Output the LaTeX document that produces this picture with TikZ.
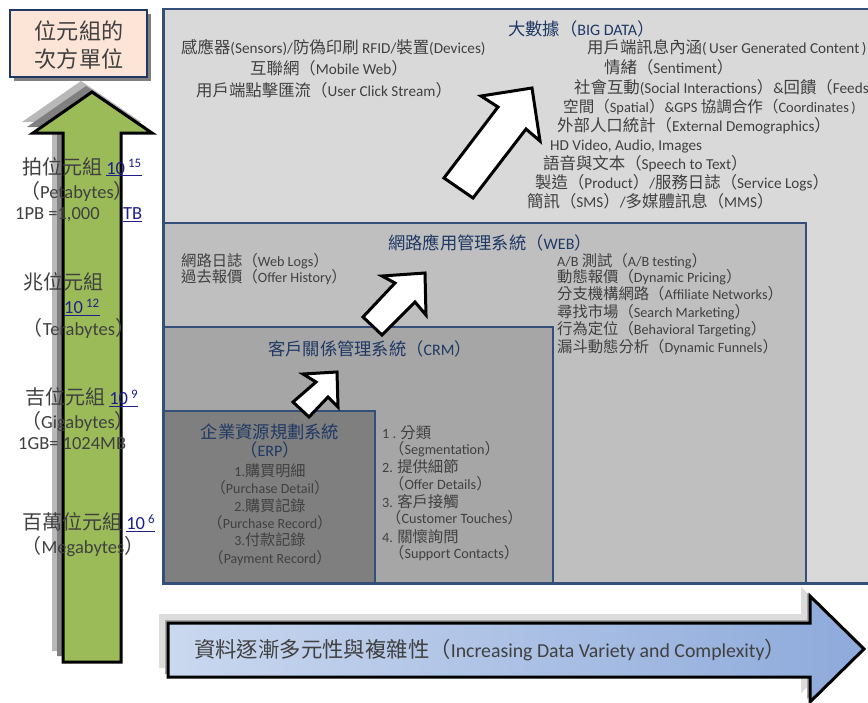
\documentclass[tikz,border=0pt]{standalone}
\usepackage{fontspec}
\setmainfont{Carlito}
\newfontfamily\latf{Carlito}
\newfontfamily\cjkf{Noto Sans CJK TC}[Scale=1.08]
\XeTeXinterchartokenstate=1
\newXeTeXintercharclass\CJKcls
\newcount\cjkcnt
\def\cjkrange#1#2{\cjkcnt=#1\relax
 \loop\XeTeXcharclass\cjkcnt=\CJKcls\relax
 \ifnum\cjkcnt<#2\relax\advance\cjkcnt by 1\relax\repeat}
\cjkrange{"3000}{"303F}
\cjkrange{"4E00}{"9FFF}
\cjkrange{"FF00}{"FF60}
\XeTeXinterchartoks 0 \CJKcls = {\cjkf}
\XeTeXinterchartoks 4095 \CJKcls = {\cjkf}
\XeTeXinterchartoks \CJKcls 0 = {\latf}
\XeTeXinterchartoks \CJKcls 4095 = {\latf}
\definecolor{bdfill}{HTML}{D9D9D9}
\definecolor{webfill}{HTML}{BFBFBF}
\definecolor{crmfill}{HTML}{A6A6A6}
\definecolor{erpfill}{HTML}{7F7F7F}
\definecolor{boxline}{HTML}{34507A}
\definecolor{ttl}{HTML}{1F3864}
\definecolor{tx}{HTML}{404040}
\definecolor{nav}{HTML}{1F1F8C}
\definecolor{peach}{HTML}{FCE4D6}
\definecolor{grn}{HTML}{9BBB59}
\definecolor{arL}{HTML}{CAD8EF}
\definecolor{arR}{HTML}{8EAADB}
\definecolor{shA}{HTML}{B8B8B8}
\definecolor{shB}{HTML}{808080}
\begin{document}
\begin{tikzpicture}[x=1pt,y=-1pt,
  box/.style={draw=boxline, line width=2.6pt},
  blk/.style={draw=black, line width=3pt, line join=miter, fill=white},
  t14/.style={inner sep=0, text=tx, font=\fontsize{15.2}{17}\selectfont, anchor=base west},
  t13/.style={inner sep=0, text=tx, font=\fontsize{14.2}{16}\selectfont, anchor=base west},
  e13/.style={inner sep=0, text=tx, font=\fontsize{14}{16}\selectfont, anchor=base},
  ttlt/.style={inner sep=0, text=ttl, font=\fontsize{16}{18}\selectfont, anchor=base west},
  lab/.style={inner sep=0, text=tx, font=\fontsize{18.5}{20}\selectfont, anchor=base west},
  labc/.style={lab, anchor=base},
  bigt/.style={inner sep=0, text=tx, font=\fontsize{20.5}{22}\selectfont, anchor=base},
  arrt/.style={inner sep=0, text=tx, font=\fontsize{19.8}{22}\selectfont, anchor=base west}]
\useasboundingbox (0,0) rectangle (868,702);
\clip (0,0) rectangle (868,702);
\fill[white] (0,0) rectangle (868,702);

% nested boxes
\draw[box, fill=bdfill] (163.5,9) rectangle (890,583.5);
\draw[box, fill=webfill] (163.5,223) rectangle (806,583.5);
\draw[box, fill=crmfill] (163.5,327) rectangle (553,583.5);
\draw[box, fill=erpfill] (163.5,411) rectangle (375,583.5);

% big data texts
\node[ttlt] (bdt) at (508,35) {大數據（BIG DATA）};
\node[t14] (b1) at (181,53.5) {感應器(Sensors)/防偽印刷 RFID/裝置(Devices)};
\node[t14] (b2) at (250,74.5) {互聯網（Mobile Web）};
\node[t14] (b3) at (196,96.5) {用戶端點擊匯流（User Click Stream）};
\node[t14] (r1) at (587,53.5) {用戶端訊息內涵(\,User Generated Content\,)};
\node[t14] (r2) at (604,73.5) {情緒（Sentiment）};
\node[t14] (r3) at (574,93.5) {社會互動(Social Interactions）\&回饋（Feeds};
\node[t14, font=\fontsize{14.4}{16}\selectfont] (r4) at (563,112.5) {空間（Spatial）\&GPS 協調合作（Coordinates\,)};
\node[t14] (r5) at (557,131.5) {外部人口統計（External Demographics）};
\node[t14] (r6) at (550,150.5) {HD Video, Audio, Images};
\node[t14] (r7) at (543,169.5) {語音與文本（Speech to Text）};
\node[t14] (r8) at (535,188.5) {製造（Product）/服務日誌（Service Logs）};
\node[t14] (r9) at (527,207.5) {簡訊（SMS）/多媒體訊息（MMS）};

% web texts
\node[ttlt] (wt) at (388,249) {網路應用管理系統（WEB）};
\node[t13] (w1) at (181,266) {網路日誌（Web Logs）};
\node[t13] (w2) at (181,282) {過去報價（Offer History）};
\node[t13] (wr1) at (557,266) {A/B 測試（A/B testing）};
\node[t13] (wr2) at (557,282) {動態報價（Dynamic Pricing）};
\node[t13] (wr3) at (557,299) {分支機構網路（Affiliate Networks）};
\node[t13] (wr4) at (557,317) {尋找市場（Search Marketing）};
\node[t13] (wr5) at (557,334) {行為定位（Behavioral Targeting）};
\node[t13] (wr6) at (557,352) {漏斗動態分析（Dynamic Funnels）};

% crm texts
\node[ttlt] (ct) at (268,355) {客戶關係管理系統（CRM）};
\node[t13] (c1) at (382,438) {1 . 分類};
\node[t13] (c2) at (389,454) {（Segmentation）};
\node[t13] (c3) at (382,472) {2. 提供細節};
\node[t13] (c4) at (389,489) {（Offer Details）};
\node[t13] (c5) at (382,507) {3. 客戶接觸};
\node[t13] (c6) at (386,523) {（Customer Touches）};
\node[t13] (c7) at (382,542) {4. 關懷詢問};
\node[t13] (c8) at (389,558) {（Support Contacts）};

% erp texts
\node[ttlt, anchor=base] (et1) at (270,438) {企業資源規劃系統};
\node[ttlt, anchor=base] (et2) at (270,456) {（ERP）};
\node[e13] (e1) at (270,476) {1.購買明細};
\node[e13] (e2) at (270,493) {（Purchase Detail）};
\node[e13] (e3) at (270,511) {2.購買記錄};
\node[e13] (e4) at (270,528) {（Purchase Record）};
\node[e13] (e5) at (270,545) {3.付款記錄};
\node[e13] (e6) at (270,563) {（Payment Record）};

% white block arrows
\draw[blk] (532,88) -- (540,141) -- (526,129) -- (473,198) -- (444,178) -- (498,107) -- (481,96) -- cycle;
\draw[blk] (425,273) -- (426,315) -- (415,302) -- (382,335) -- (363,317) -- (395,283) -- (382,276) -- cycle;
\draw[blk] (337,372) -- (338,407) -- (328,397) -- (309,417) -- (293,402) -- (316,382) -- (303,374) -- cycle;

% title box
\fill[shB] (14,14) rectangle (151,81);
\draw[draw=ttl, line width=1.2pt, fill=peach] (10,10) rectangle (147,77);
\node[bigt] (h1) at (79,39) {位元組的};
\node[bigt] (h2) at (79,67) {次方單位};

% green arrow with shadows
\fill[shA] (52,651) -- (52,122) -- (22,122) -- (81,81) -- (141,122) -- (110,122) -- (110,651) -- cycle;
\fill[shB] (57,656) -- (57,127) -- (27,127) -- (86,86) -- (146,127) -- (115,127) -- (115,656) -- cycle;
\draw[draw=black, line width=3pt, line join=miter, fill=grn] (63,662) -- (63,133) -- (33,133) -- (92,92) -- (152,133) -- (121,133) -- (121,662) -- cycle;

% left labels
\node[lab] (pb1) at (22,174) {拍位元組 \textcolor{nav}{\underline{10\,\textsuperscript{15}}}};
\node[labc] (pb2) at (77,198.5) {（Petabytes）};
\node[lab] (pb3) at (15,219.5) {1PB =1,000};
\node[lab, text=nav] (pb4) at (123,219.5) {\underline{TB}};
\node[lab] (tb1) at (23,289.5) {兆位元組};
\node[lab, text=nav] (tb2) at (64,313.5) {\underline{10\,\textsuperscript{12}}};
\node[labc] (tb3) at (79,335.5) {（Terabytes）};
\node[lab] (gb1) at (25,404.5) {吉位元組 \textcolor{nav}{\underline{10\,\textsuperscript{9}}}};
\node[labc] (gb2) at (78,428.5) {（Gigabytes）};
\node[lab] (gb3) at (18,449.5) {1GB= 1024MB};
\node[lab] (mb1) at (22,529.5) {百萬位元組 \textcolor{nav}{\underline{10\,\textsuperscript{6}}}};
\node[labc] (mb2) at (83,553.5) {（Megabytes）};

% bottom arrow with shadows
\fill[shA!50] (159,614) -- (801,614) -- (801,587) -- (857,640) -- (801,693) -- (801,668) -- (159,668) -- cycle;
\fill[shB!70] (165,620) -- (807,620) -- (807,593) -- (863,646) -- (807,699) -- (807,674) -- (165,674) -- cycle;
\shade[left color=arL, right color=arR] (168,623) -- (810,623) -- (810,596) -- (864,649) -- (810,702) -- (810,677) -- (168,677) -- cycle;
\draw[draw=black, line width=3pt, line join=miter] (168,623) -- (810,623) -- (810,596) -- (864,649) -- (810,702) -- (810,677) -- (168,677) -- cycle;
\node[arrt] (bt) at (194,657) {資料逐漸多元性與複雜性（Increasing Data Variety and Complexity）};
\end{tikzpicture}
\end{document}
